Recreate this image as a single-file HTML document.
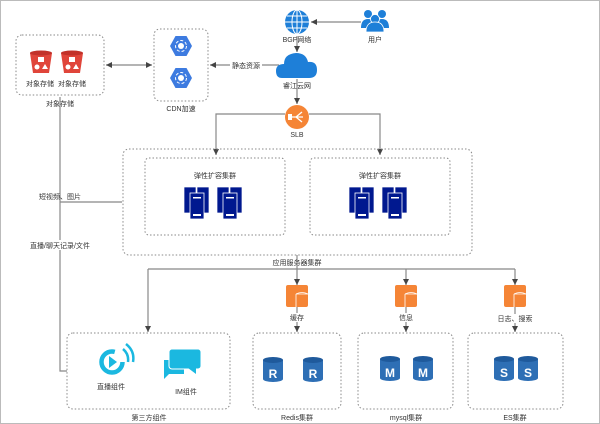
<!DOCTYPE html>
<html><head><meta charset="utf-8"><style>
html,body{margin:0;padding:0;background:#fff}
svg{display:block}
text{font-family:"Liberation Sans","Noto Sans CJK SC",sans-serif;font-size:7px;fill:#333;text-anchor:middle}
.b{fill:none;stroke:#888;stroke-width:1;stroke-dasharray:1.5,2}
.l{stroke:#888;stroke-width:1.2;fill:none}
</style></head><body>
<svg width="600" height="424" viewBox="0 0 600 424" xmlns="http://www.w3.org/2000/svg">
<defs>
<marker id="a" markerWidth="6" markerHeight="6" refX="5" refY="3" orient="auto"><path d="M0,0.5 L5,3 L0,5.5z" fill="#444"/></marker>
<marker id="s" markerWidth="6" markerHeight="6" refX="1" refY="3" orient="auto"><path d="M6,0.5 L1,3 L6,5.5z" fill="#444"/></marker>
<g id="bk"><path d="M0,2 L22,2 L19,22 L3,22z" fill="#e0453a"/><ellipse cx="11" cy="2" rx="11" ry="2.5" fill="#c2322a"/><rect x="8" y="6" width="6" height="5" fill="#fff"/><circle cx="7" cy="16" r="2.5" fill="#fff"/><path d="M15,13 L18,18 L12,18z" fill="#fff"/></g>
<g id="hx"><path d="M-11,0 L-5.5,-10 L5.5,-10 L11,0 L5.5,10 L-5.5,10z" fill="#3d7be0"/><circle r="3" fill="#fff"/><circle r="5.5" fill="none" stroke="#fff" stroke-width="1" stroke-dasharray="3,2"/></g>
<g id="sv"><rect x="0" y="0" width="12" height="26" fill="#00188f" stroke="#fff" stroke-width="0.7"/><rect x="13" y="0" width="12" height="26" fill="#00188f" stroke="#fff" stroke-width="0.7"/><rect x="6" y="6" width="14" height="26" fill="#00188f" stroke="#fff" stroke-width="0.8"/><rect x="9" y="10" width="8" height="1.5" fill="#fff"/><rect x="9" y="27" width="8" height="2" fill="#fff"/></g>
<g id="db"><rect x="0" y="3" width="20" height="19" fill="#2e6fb5"/><ellipse cx="10" cy="22" rx="10" ry="3" fill="#2e6fb5"/><ellipse cx="10" cy="3" rx="10" ry="3" fill="#1f5a9c"/></g>
<g id="or"><rect x="0" y="0" width="22" height="22" rx="2" fill="#f58536"/><path d="M10,9 h12 M10,9 v13" stroke="#fff" stroke-width="0.8" fill="none"/><path d="M10,9 q6,-3 12,0" stroke="#fff" stroke-width="0.8" fill="none"/></g>
</defs>
<rect x="0.5" y="0.5" width="599" height="423" fill="none" stroke="#bbb"/>
<!-- storage -->
<rect class="b" x="16" y="35" width="88" height="60" rx="6"/>
<use href="#bk" x="30" y="51"/><use href="#bk" x="61" y="51"/>
<text x="40" y="86">对象存储</text><text x="72" y="86">对象存储</text>
<text x="60" y="106">对象存储</text>
<!-- CDN -->
<rect class="b" x="154" y="29" width="54" height="72" rx="6"/>
<use href="#hx" x="181" y="46"/><use href="#hx" x="181" y="78"/>
<text x="181" y="111">CDN加速</text>
<line class="l" x1="106" y1="65" x2="152" y2="65" marker-start="url(#s)" marker-end="url(#a)"/>
<line class="l" x1="279" y1="65" x2="210" y2="65" marker-end="url(#a)"/>
<rect x="230" y="60" width="32" height="10" fill="#fff"/><text x="246" y="68">静态资源</text>
<!-- BGP -->
<circle cx="297" cy="22" r="12" fill="#1e7fd8"/>
<g stroke="#fff" stroke-width="1" fill="none"><ellipse cx="297" cy="22" rx="5" ry="12"/><line x1="297" y1="10" x2="297" y2="34"/><line x1="285" y1="22" x2="309" y2="22"/><line x1="287" y1="16" x2="307" y2="16"/><line x1="287" y1="28" x2="307" y2="28"/></g>
<text x="297" y="42">BGP网络</text>
<!-- users -->
<g fill="#1e7fd8"><circle cx="368" cy="14" r="4"/><circle cx="382" cy="14" r="4"/><path d="M361,28 q0,-9 7,-9 q7,0 7,9z M375,28 q0,-9 7,-9 q7,0 7,9z"/><circle cx="375" cy="19" r="4.5" stroke="#fff" stroke-width="0.8"/><path d="M366,32 q0,-10 9,-10 q9,0 9,10z" stroke="#fff" stroke-width="0.8"/></g>
<text x="375" y="42">用户</text>
<line class="l" x1="361" y1="22" x2="311" y2="22" marker-end="url(#a)"/>
<line class="l" x1="297" y1="36" x2="297" y2="52" marker-end="url(#a)"/>
<!-- cloud -->
<path d="M282,78 q-6,0 -6,-7 q0,-7 8,-7 q0,-10 12,-11 q10,0 12,9 q9,-1 9,8 q0,8 -8,8z" fill="#1e7fd8"/>
<text x="297" y="88">睿江云网</text>
<line class="l" x1="297" y1="79" x2="297" y2="104" marker-end="url(#a)"/>
<!-- SLB -->
<circle cx="297" cy="117" r="12" fill="#f58536"/>
<path d="M290,117 h6 l6,-5 M296,117 h7 M296,117 l6,5" stroke="#fff" stroke-width="1.3" fill="none"/>
<rect x="288" y="114" width="4" height="6" fill="#fff"/>
<text x="297" y="137">SLB</text>
<path class="l" d="M285,114 H216 V155" marker-end="url(#a)"/>
<path class="l" d="M309,114 H380 V155" marker-end="url(#a)"/>
<!-- app cluster -->
<rect class="b" x="123" y="149" width="349" height="106" rx="6"/>
<rect class="b" x="145" y="158" width="140" height="77" rx="4"/>
<rect class="b" x="310" y="158" width="140" height="77" rx="4"/>
<text x="215" y="178">弹性扩容集群</text><text x="380" y="178">弹性扩容集群</text>
<use href="#sv" x="184" y="187"/><use href="#sv" x="217" y="187"/>
<use href="#sv" x="349" y="187"/><use href="#sv" x="382" y="187"/>
<text x="297" y="265">应用服务器集群</text>
<!-- left line -->
<path class="l" d="M122,202 H60 M60,97 V371 H67"/>
<text x="60" y="199">短视频、图片</text>
<rect x="28" y="240" width="64" height="10" fill="#fff"/><text x="60" y="248">直播/聊天记录/文件</text>
<!-- bottom distribution -->
<path class="l" d="M297,255 V269 M148,269 H515"/>
<line class="l" x1="148" y1="269" x2="148" y2="332" marker-end="url(#a)"/>
<line class="l" x1="297" y1="269" x2="297" y2="285" marker-end="url(#a)"/>
<line class="l" x1="406" y1="269" x2="406" y2="285" marker-end="url(#a)"/>
<line class="l" x1="515" y1="269" x2="515" y2="285" marker-end="url(#a)"/>
<use href="#or" x="286" y="285"/><use href="#or" x="395" y="285"/><use href="#or" x="504" y="285"/>
<line class="l" x1="297" y1="307" x2="297" y2="332" marker-end="url(#a)"/>
<line class="l" x1="406" y1="307" x2="406" y2="332" marker-end="url(#a)"/>
<line class="l" x1="515" y1="307" x2="515" y2="332" marker-end="url(#a)"/>
<rect x="285" y="313" width="24" height="9" fill="#fff"/><text x="297" y="320">缓存</text>
<rect x="394" y="313" width="24" height="9" fill="#fff"/><text x="406" y="320">信息</text>
<rect x="495" y="314" width="40" height="9" fill="#fff"/><text x="515" y="321">日志、搜索</text>
<!-- bottom boxes -->
<rect class="b" x="67" y="333" width="163" height="76" rx="6"/>
<rect class="b" x="253" y="333" width="88" height="76" rx="6"/>
<rect class="b" x="358" y="333" width="95" height="76" rx="6"/>
<rect class="b" x="468" y="333" width="95" height="76" rx="6"/>
<text x="149" y="420">第三方组件</text><text x="297" y="420">Redis集群</text><text x="406" y="420">mysql集群</text><text x="515" y="420">ES集群</text>
<!-- live icon -->
<circle cx="112" cy="362" r="10.5" fill="none" stroke="#1bb8e0" stroke-width="4.5" stroke-dasharray="52,14"/>
<path d="M109,356 L117,362 L109,368z" fill="#1bb8e0"/>
<path d="M123,349 q6,5 5,13 M126,344 q9,7 7,18" stroke="#1bb8e0" stroke-width="2.5" fill="none"/>
<text x="111" y="389">直播组件</text>
<!-- IM icon -->
<path d="M164,360 h20 v14 h-15 l-5,5z" fill="#1bb8e0"/>
<rect x="169" y="349" width="32" height="20" rx="3" fill="#1bb8e0" stroke="#fff" stroke-width="1"/>
<path d="M188,368 l8,6 v-6z" fill="#1bb8e0"/>
<text x="186" y="394">IM组件</text>
<!-- dbs -->
<use href="#db" x="263" y="357"/><use href="#db" x="303" y="357"/>
<use href="#db" x="380" y="356"/><use href="#db" x="413" y="356"/>
<use href="#db" x="494" y="356"/><use href="#db" x="518" y="356"/>
<g><text x="273" y="378" style="fill:#fff;font-size:12px;font-weight:bold">R</text><text x="313" y="378" style="fill:#fff;font-size:12px;font-weight:bold">R</text>
<text x="390" y="377" style="fill:#fff;font-size:12px;font-weight:bold">M</text><text x="423" y="377" style="fill:#fff;font-size:12px;font-weight:bold">M</text>
<text x="504" y="377" style="fill:#fff;font-size:12px;font-weight:bold">S</text><text x="528" y="377" style="fill:#fff;font-size:12px;font-weight:bold">S</text></g>
</svg>
</body></html>
